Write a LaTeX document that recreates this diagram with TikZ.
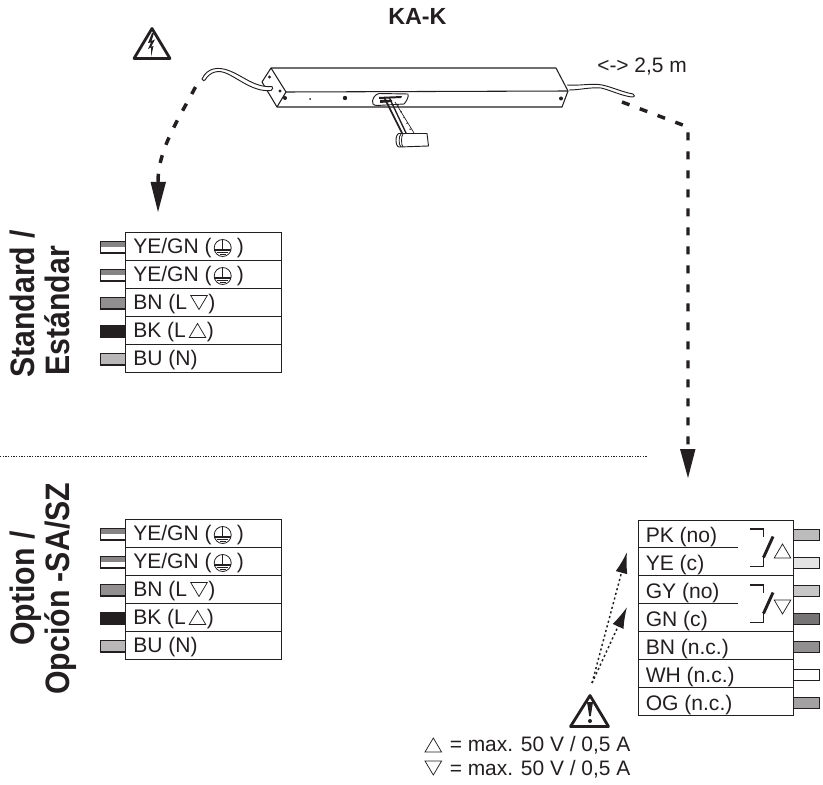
\documentclass[tikz,border=0pt]{standalone}
\usepackage{fontspec}
\setmainfont{Liberation Sans}
\usetikzlibrary{arrows.meta,calc}
\definecolor{ink}{HTML}{231F20}
\tikzset{
  x=0.75pt,y=-0.75pt,
  every node/.style={text=ink},
  box/.style={draw=ink,line width=0.75pt},
  rowline/.style={draw=ink,line width=0.6pt},
  stub/.style={draw=ink,line width=0.8pt},
  rowtext/.style={font=\fontsize{15.8}{18}\selectfont,anchor=base west,inner sep=0pt},
  side/.style={font=\bfseries\fontsize{22.7}{26}\selectfont,rotate=90,inner sep=0pt,anchor=base west},
  bigdash/.style={draw=ink,line width=2.6pt,dash pattern=on 6pt off 8.25pt},
  fine/.style={draw=ink,line width=0.6pt,line join=round},
  dotarrow/.style={draw=ink,line width=1.1pt,dash pattern=on 1.6pt off 2pt,-{Latex[length=16pt,width=9pt]}},
  warn/.style={draw=ink,line width=2.1pt,line join=round,fill=white},
}
\newcommand{\tallx}[1]{\scalebox{1}[1.12]{#1}}
\newcommand{\trup}[3][0.55pt]{\draw[ink,line width=#1,line join=miter] (#2-8.3,#3+7) -- (#2+8.3,#3+7) -- (#2,#3-7) -- cycle;}
\newcommand{\trdn}[3][0.55pt]{\draw[ink,line width=#1,line join=miter] (#2-8.3,#3-7) -- (#2+8.3,#3-7) -- (#2,#3+7) -- cycle;}
\newcommand{\pe}[2]{%
  \draw[ink,line width=0.6pt] (#1,#2) circle[radius=8.5];
  \draw[ink,line width=0.8pt] (#1,#2-8.5) -- (#1,#2+2);
  \draw[ink,line width=0.8pt] (#1-8.5,#2+2) -- (#1+8.5,#2+2) (#1-5.5,#2+4.5) -- (#1+5.5,#2+4.5) (#1-3,#2+6.5) -- (#1+3,#2+6.5);}
\newcommand{\wirebox}[1]{%
  \begin{scope}[yshift=#1]
  \draw[box] (125.7,232) rectangle (281,372);
  \foreach \y in {260,288,316,344} \draw[rowline] (125.7,\y) -- (281,\y);
  \filldraw[stub,fill=white] (100.5,241.5) rectangle (125.7,253);
  \fill[ink!55] (101,242) rectangle (125.2,246.5);
  \filldraw[stub,fill=white] (100.5,269.5) rectangle (125.7,281);
  \fill[ink!55] (101,270) rectangle (125.2,274.5);
  \filldraw[stub,fill=ink!50] (100.5,297.5) rectangle (125.7,309);
  \filldraw[stub,fill=ink] (100.5,325.5) rectangle (125.7,337);
  \filldraw[stub,fill=ink!32] (100.5,353.5) rectangle (125.7,365);
  \node[rowtext] at (133,253.3) {YE/GN (};
  \node[rowtext] at (133,281.3) {YE/GN (};
  \node[rowtext] at (133,309.3) {BN (L};
  \node[rowtext] at (133,337.3) {BK (L};
  \node[rowtext] at (133,365.3) {BU (N)};
  \pe{222.7}{248} \pe{222.7}{276}
  \node[rowtext] at (236.5,253.3) {)};
  \node[rowtext] at (236.5,281.3) {)};
  \trdn{199}{302.5}
  \node[rowtext] at (208,309.3) {)};
  \trup{197.5}{330.5}
  \node[rowtext] at (206.5,337.3) {)};
  \end{scope}}
\begin{document}
\begin{tikzpicture}
\useasboundingbox (0,0) rectangle (823,784);
% titles
\node[font=\bfseries\fontsize{17.5}{20}\selectfont,inner sep=0pt,anchor=base west] (title) at (388,25) {KA-K};
\node[font=\fontsize{15.7}{18}\selectfont,inner sep=0pt,anchor=base west] (len) at (597,72.5) {<-> 2,5 m};
% actuator
\draw[fine,line width=0.8pt] (271,68) -- (556,68) -- (568,91) -- (562,107) -- (277,107) -- (262,82) -- cycle;
\draw[fine,line width=0.8pt] (271,68) -- (286,92) -- (277,107);
\draw[fine,line width=0.8pt] (286,92) -- (568,91);
\fill[ink] (269.5,77) circle[radius=1.6] (280,91) circle[radius=1.6] (285,98) circle[radius=2] (310,99) circle[radius=1] (345,98) circle[radius=2.2] (561,98.5) circle[radius=2];
% cables
\draw[ink,line width=0.7pt,fill=white] (272,86.5) .. controls (255,88) and (243,76) .. (230,71) .. controls (218,66) and (207,68) .. (202,79) .. controls (203,81) and (204,81) .. (205,80) .. controls (210,72) and (218,69) .. (228,74) .. controls (242,81) and (254,92) .. (271,90.5) .. controls (273,90) and (273,87) .. (272,86.5) -- cycle;
\draw[ink,line width=0.7pt,fill=white] (567,85) .. controls (580,86) and (592,83) .. (602,85) .. controls (612,87) and (622,92) .. (633,94) .. controls (635,95) and (635,97) .. (632,97) .. controls (622,96) and (610,90) .. (601,88) .. controls (590,87) and (580,90) .. (569,90);
% bracket
\draw[fine,fill=white,line width=0.7pt] (373,104) .. controls (371,100) and (375,94) .. (379,93.5) -- (408,94) .. controls (409,97) and (406,102) .. (404,104) -- (377,105.5) .. controls (375,105.5) and (374,105) .. (373,104) -- cycle;
\fill[ink] (379,97) -- (402,96) -- (401,98) -- (379,99) -- cycle;
\fill[ink] (380,100) -- (392,100) -- (392,102) -- (380,103) -- cycle;
\draw[ink,line width=1.3pt] (384,97) -- (402,133);
\draw[ink,line width=1pt] (389,97) -- (406,133);
\draw[ink,line width=0.5pt] (395,102) -- (414,133);
\foreach \t in {0,0.2,0.4,0.6,0.8,1} \fill[ink] ($(398,106)!\t!(413,135)$) circle[radius=0.8];
\draw[fine,fill=white,line width=0.7pt] (399,133.5) -- (427,133.5) -- (428.5,146) -- (399,147) .. controls (395,146.5) and (395,134) .. (399,133.5) -- cycle;
\draw[fine,line width=0.6pt] (401,134) .. controls (398.5,136) and (398.5,145) .. (401,147);
\draw[fine,line width=0.6pt] (403,134) .. controls (401,136) and (401,145) .. (403,147);
% lightning triangle
\draw[warn] (152,28.5) -- (170,58.5) -- (134,58.5) -- cycle;
\fill[ink] (152,33) -- (148,43) -- (151,42.5) -- (148,49) -- (151,47.5) -- (151,57) -- (153.5,46) -- (151,47) -- (155,39.5) -- (151.5,41) -- (154,33) -- cycle;
% dashed arrows
\coordinate (a1s) at (195.5,87);
\coordinate (a1e) at (158,212);
\coordinate (a2s) at (622,102);
\coordinate (a2m) at (688,127);
\coordinate (a2e) at (688,478);
\draw[bigdash] (a1s) .. controls (178,120) and (158,150) .. (158,182);
\fill[ink] (a1e) -- (150.5,182) -- (166,182) -- cycle;
\draw[bigdash] (a2s) -- (a2m) -- (688,449);
\fill[ink] (a2e) -- (680,449) -- (695.5,449) -- cycle;
% separator
\coordinate (sepl) at (0,456);
\coordinate (sepr) at (648,456);
\draw[ink,line width=0.6pt,dash pattern=on 1pt off 1pt] (sepl) -- (sepr);
% side labels
\node[side] (s1) at (34.5,378) {\tallx{Standard /}};
\node[side] (s2) at (69.5,376) {\tallx{Estándar}};
\node[side] (s3) at (34.5,646) {\tallx{Option /}};
\node[side] (s4) at (69.5,695) {\tallx{Opción -SA/SZ}};
% boxes
\wirebox{0pt}
\wirebox{-215.25pt}
% right box
\draw[box] (638.3,520) rectangle (793.7,715);
\foreach \y in {575.7,631.7,659.7,687.7} \draw[rowline] (638.3,\y) -- (793.7,\y);
\draw[rowline] (638.3,547.7) -- (737.7,547.7);
\draw[rowline] (638.3,603.7) -- (737.7,603.7);
\foreach \y/\c in {535/30,563/12,591/25,619/62,647/50,675/0,703/42}
  \filldraw[stub,fill=ink!\c] (793.7,\y-5.8) rectangle (819.5,\y+5.8);
\node[rowtext] at (645.5,542.7) {PK (no)};
\node[rowtext] at (645.5,570.3) {YE (c)};
\node[rowtext] at (645.5,598.3) {GY (no)};
\node[rowtext] at (645.5,626.3) {GN (c)};
\node[rowtext] at (645.5,654.3) {BN (n.c.)};
\node[rowtext] at (645.5,682.3) {WH (n.c.)};
\node[rowtext] at (645.5,710.3) {OG (n.c.)};
\foreach \o in {0,56}{
  \begin{scope}[shift={(0,\o)}]
  \draw[ink,line width=0.8pt] (750,529) -- (763.5,529) -- (763.5,537);
  \draw[ink,line width=0.8pt] (750,566.5) -- (763.5,566.5) -- (763.5,557);
  \draw[ink,line width=2.2pt] (763.5,557.5) -- (773,536.5);
  \end{scope}}
\trup{782.5}{551}
\trdn{782.5}{607}
% warning + dotted arrows
\coordinate (d1) at (592,683);
\coordinate (d2) at (627,552);
\coordinate (d3) at (627,607);
\draw[dotarrow] (d1) -- (d2);
\draw[dotarrow] (d1) -- (d3);
\draw[warn] (590,695.5) -- (608.5,726.5) -- (570.5,726.5) -- cycle;
\fill[ink] (587,702) -- (593,702) -- (590.8,716) -- (589.2,716) -- cycle;
\fill[ink] (590,721) circle[radius=2];
% legend
\trup{433.3}{745}
\trdn{433.3}{768}
\node[rowtext,font=\fontsize{15.7}{18}\selectfont] (l1) at (449.5,751.7) {= max. 50 V / 0,5 A};
\node[rowtext,font=\fontsize{15.7}{18}\selectfont] (l2) at (449.5,775.7) {= max. 50 V / 0,5 A};
\end{tikzpicture}
\end{document}
